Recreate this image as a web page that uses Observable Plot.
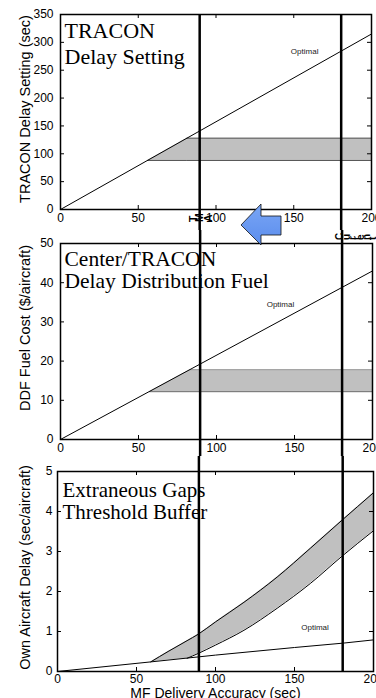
<!DOCTYPE html>
<html><head><meta charset="utf-8">
<script src="https://cdn.jsdelivr.net/npm/d3@7"></script>
<script src="https://cdn.jsdelivr.net/npm/@observablehq/plot@0.6"></script>
<style>
body{margin:0;background:#fff;}
#wrap{position:relative;width:376px;height:698px;overflow:hidden;background:#fff;}
#wrap svg{position:absolute;left:0;}
</style></head><body><div id="wrap"></div>
<script>
// ---- shared ----
const xTicks = [0, 50, 100, 150, 200];
const refLines = [89.5, 180.5];
const xLabel = "MF Delivery Accuracy (sec)";
const optimalText = "Optimal";

// ---- panel 1: TRACON delay setting ----
const p1Title = "TRACON\nDelay Setting";
const p1YLabel = "TRACON Delay Setting (sec)";
const p1YTicks = [0, 50, 100, 150, 200, 250, 300, 350];
const p1OptX = [0, 200];
const p1OptY = [0, 315];
const p1BandX = [56, 81.3, 200];
const p1BandLo = [88, 88, 88];
const p1BandHi = [88, 128, 128];
const p1OptLabel = [157, 283];

// ---- panel 2: Center/TRACON DDF fuel ----
const p2Title = "Center/TRACON\nDelay Distribution Fuel";
const p2YLabel = "DDF Fuel Cost ($/aircraft)";
const p2YTicks = [0, 10, 20, 30, 40, 50];
const p2OptX = [0, 200];
const p2OptY = [0, 43];
const p2BandX = [57, 83, 200];
const p2BandLo = [12.2, 12.2, 12.2];
const p2BandHi = [12.2, 17.8, 17.8];
const p2OptLabel = [141, 34.4];

// ---- panel 3: Extraneous gaps threshold buffer ----
const p3Title = "Extraneous Gaps\nThreshold Buffer";
const p3YLabel = "Own Aircraft Delay (sec/aircraft)";
const p3YTicks = [0, 1, 2, 3, 4, 5];
const p3OptX = [0, 59, 100, 150, 181, 200];
const p3OptY = [0, 0.24, 0.41, 0.60, 0.71, 0.79];
const p3BandX = [59, 70, 82, 89, 100, 118, 139, 160, 180, 200];
const p3BandHi = [0.24, 0.50, 0.77, 0.93, 1.24, 1.73, 2.36, 3.08, 3.78, 4.47];
const p3BandLo = [0.24, 0.285, 0.33, 0.45, 0.66, 1.03, 1.58, 2.20, 2.88, 3.52];
const p3OptLabel = [163, 1.1];

// ---- annotations ----
const markerLabels = ["TMA", "Current"];

const sans = "Liberation Sans, Arial, Helvetica, sans-serif";
const serif = "Liberation Serif, Times New Roman, serif";

function pts(xs, ys) { return xs.map((x, i) => ({x, y: ys[i]})); }

function panel(c) {
  const fh = c.height - c.mt - c.mb, fw = 376 - c.ml - c.mr;
  const band = c.bandX.map((x, i) => ({x, lo: c.bandLo[i], hi: c.bandHi[i]}));
  const inner = (a) => a.slice(1, -1);
  const marks = [
    Plot.areaY(band, {x: "x", y1: "lo", y2: "hi", fill: "#c0c0c0", curve: c.curve}),
    ...c.extra,
    Plot.line(pts(c.optX, c.optY), {x: "x", y: "y", stroke: "black", strokeWidth: 1}),
    Plot.text([c.optLabel], {x: d => d[0], y: d => d[1], text: () => optimalText, fontSize: 8, fill: "#222"}),
    Plot.tickX(inner(xTicks), {x: d => d, insetTop: fh - 4, stroke: "black"}),
    Plot.tickX(inner(xTicks), {x: d => d, insetBottom: fh - 4, stroke: "black"}),
    Plot.tickY(inner(c.yTicks), {y: d => d, insetRight: fw - 4, stroke: "black"}),
    Plot.tickY(inner(c.yTicks), {y: d => d, insetLeft: fw - 4, stroke: "black"}),
    Plot.axisX({ticks: xTicks, tickSize: 0, tickPadding: c.xPad, label: null, fontSize: 12, tickFormat: d => String(d)}),
    Plot.axisY({ticks: c.yTicks, tickSize: 0, tickPadding: c.yPad, label: null, fontSize: 12, tickFormat: d => String(d)}),
    Plot.text([c.ylabel], {frameAnchor: "left", rotate: -90, dx: 25 - c.ml, dy: c.ylDy, fontSize: 14.5, textAnchor: "middle", lineAnchor: "middle", fill: "black"}),
    Plot.text([c.title], {frameAnchor: "top-left", dx: c.tDx, dy: c.tDy, textAnchor: "start", lineAnchor: "top", fontSize: c.tSize, lineHeight: c.tLH, fontFamily: serif, fill: "black"}),
    ...(c.xlabel ? [Plot.text([c.xlabel], {frameAnchor: "bottom", dy: 22.5, lineAnchor: "middle", fontSize: 14, fill: "black"})] : []),
    Plot.frame({stroke: "black", strokeWidth: 1.5}),
    Plot.ruleX(refLines, {x: d => d, stroke: "black", strokeWidth: 2.5, insetTop: c.rTop, insetBottom: c.rBottom})
  ];
  const svg = Plot.plot({
    width: 376, height: c.height,
    marginTop: c.mt, marginBottom: c.mb, marginLeft: c.ml, marginRight: c.mr,
    x: {domain: [0, 200]},
    y: {domain: c.yDomain},
    style: {fontFamily: sans, fontSize: "12px", color: "black", background: "transparent", overflow: "visible"},
    marks
  });
  svg.style.top = c.top + "px";
  return svg;
}

const wrap = document.getElementById("wrap");

wrap.appendChild(panel({
  top: 0, height: 230, mt: 14, mb: 21, ml: 60, mr: 5, yDomain: [0, 350], yTicks: p1YTicks, yPad: 7, xPad: 4,
  optX: p1OptX, optY: p1OptY, bandX: p1BandX, bandLo: p1BandLo, bandHi: p1BandHi, curve: "linear",
  extra: [
    Plot.line(pts(p1BandX.slice(1), p1BandHi.slice(1)), {x: "x", y: "y", stroke: "#555", strokeWidth: 1}),
    Plot.line(pts(p1BandX, p1BandLo), {x: "x", y: "y", stroke: "#555", strokeWidth: 1})
  ],
  optLabel: p1OptLabel, ylabel: p1YLabel, ylDy: -3,
  title: p1Title, tDx: 4, tDy: 5.4, tSize: 22, tLH: 1.18,
  rTop: 0, rBottom: -21
}));

wrap.appendChild(panel({
  top: 230, height: 226, mt: 13, mb: 17, ml: 60, mr: 4, yDomain: [0, 50], yTicks: p2YTicks, yPad: 7, xPad: 3.5,
  optX: p2OptX, optY: p2OptY, bandX: p2BandX, bandLo: p2BandLo, bandHi: p2BandHi, curve: "linear",
  extra: [
    Plot.line(pts(p2BandX.slice(1), p2BandHi.slice(1)), {x: "x", y: "y", stroke: "#999", strokeWidth: 1}),
    Plot.line(pts(p2BandX, p2BandLo), {x: "x", y: "y", stroke: "#666", strokeWidth: 1})
  ],
  optLabel: p2OptLabel, ylabel: p2YLabel, ylDy: -13.5,
  title: p2Title, tDx: 4, tDy: 6.7, tSize: 21.5, tLH: 1.04,
  rTop: -13, rBottom: -17
}));

wrap.appendChild(panel({
  top: 456, height: 242, mt: 15, mb: 27, ml: 57, mr: 3, yDomain: [0, 5], yTicks: p3YTicks, yPad: 5, xPad: 2.5,
  optX: p3OptX, optY: p3OptY, bandX: p3BandX, bandLo: p3BandLo, bandHi: p3BandHi, curve: "monotone-x",
  extra: [
    Plot.line(pts(p3BandX, p3BandHi), {x: "x", y: "y", stroke: "black", strokeWidth: 1, curve: "monotone-x"}),
    Plot.line(pts(p3BandX.slice(2), p3BandLo.slice(2)), {x: "x", y: "y", stroke: "black", strokeWidth: 1, curve: "monotone-x"})
  ],
  optLabel: p3OptLabel, ylabel: p3YLabel, ylDy: -4,
  title: p3Title, tDx: 5, tDy: 10.8, tSize: 21, tLH: 1.01,
  xlabel: xLabel,
  rTop: -15, rBottom: 0
}));

// overlay: arrow and garbled marker labels
const ns = "http://www.w3.org/2000/svg";
const ov = document.createElementNS(ns, "svg");
ov.setAttribute("width", 376); ov.setAttribute("height", 698);
ov.style.top = "0px"; ov.style.pointerEvents = "none";
ov.innerHTML = `
<defs><linearGradient id="bg" x1="0" y1="0" x2="0" y2="1">
<stop offset="0" stop-color="#7aa6f5"/><stop offset="1" stop-color="#5b8ded"/></linearGradient></defs>
<polygon points="241,225 261,204 261,216 281,216 281,235 261,235 261,245" fill="url(#bg)" stroke="#111" stroke-width="0.8"/>
<text x="197" y="222" rotate="-90" font-family="${sans}" font-weight="bold" font-size="10.5">${markerLabels[0]}</text>
<text x="343" y="240" rotate="-90" font-family="${sans}" font-weight="bold" font-size="10">${markerLabels[1]}</text>
`;
wrap.appendChild(ov);
</script>
</body></html>
